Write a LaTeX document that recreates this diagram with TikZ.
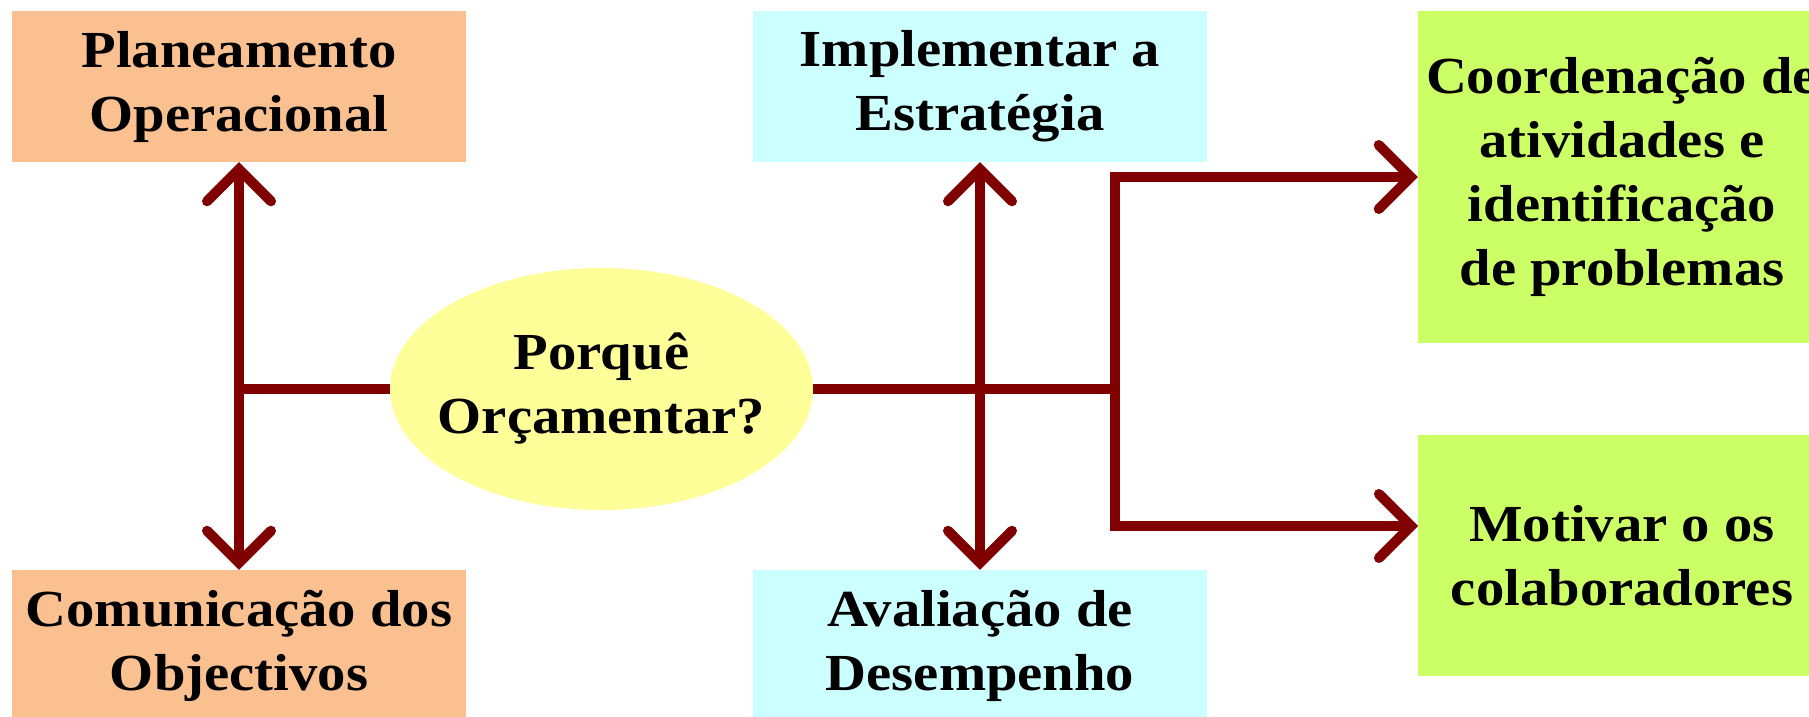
\documentclass[tikz,border=0pt]{standalone}
\usepackage{fontspec}
\setmainfont{Liberation Serif}[FakeStretch=1.09]
\usepackage{tikz}
\usetikzlibrary{arrows.meta,positioning,calc,shapes.geometric}

\definecolor{peach}{HTML}{FAC090}
\definecolor{paleblue}{HTML}{CCFFFF}
\definecolor{lime}{HTML}{CCFF66}
\definecolor{paleyellow}{HTML}{FFFF99}
\definecolor{maroon}{HTML}{800000}

\begin{document}
\begin{tikzpicture}[x=1pt, y=-1pt,
            every node/.style={align=center, inner sep=0pt,
                font=\fontsize{52}{64}\selectfont\bfseries},
            box/.style={rectangle, minimum width=454pt, minimum height=151pt},
            goal/.style={rectangle, minimum width=408pt},
            link/.style={draw=maroon, line width=10pt},
            barb/.tip={Straight Barb[length=32pt,width=64pt,line cap=round]},
            twoway/.style={link, barb-barb},
            oneway/.style={link, -barb}]
        \useasboundingbox (0,0) rectangle (1809,717);

        % centre
        \node[ellipse, fill=paleyellow, inner xsep=-15pt,
              minimum width=423pt, minimum height=242pt]
            (why) at (601.5,389) {Porquê\\Orçamentar?};

        % left pair
        \node[box, fill=peach] (plan) at (239,86.5) {Planeamento\\Operacional};
        \node[box, fill=peach] (comm) at (239,645.5) {Comunicação dos\\Objectivos};

        % middle pair
        \node[box, fill=paleblue] (impl) at (980,86.5) {Implementar a\\Estratégia};
        \node[box, fill=paleblue] (eval) at (980,645.5) {Avaliação de\\Desempenho};

        % right pair
        \node[goal, fill=lime, minimum height=332pt] (coord) at (1622,177)
            {Coordenação de\\atividades e\\identificação\\de problemas};
        \node[goal, fill=lime, minimum height=241pt] (motiv) at (1622,555.5)
            {Motivar o os\\colaboradores};

        \coordinate (fork) at (1115,389);
        \coordinate (motivin) at (1418,526);

        \draw[twoway] (plan.south) -- (comm.north);
        \draw[link] (why.west) -- (plan.south |- why.west);
        \draw[twoway] (impl.south) -- (eval.north);
        \draw[link] (why.east) -- (fork);
        \draw[twoway] (coord.west) -| (fork) |- (motivin);
\end{tikzpicture}
\end{document}
